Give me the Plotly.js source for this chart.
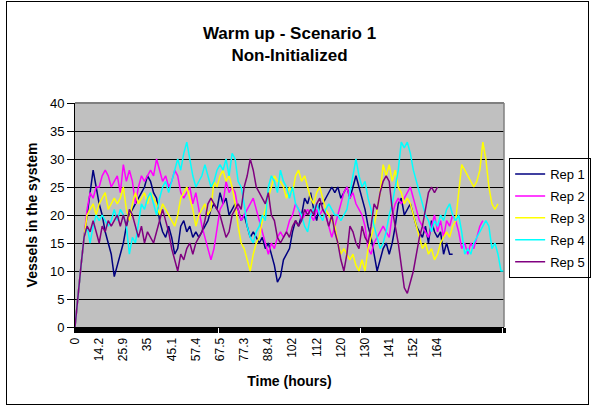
<!DOCTYPE html>
<html>
<head>
<meta charset="utf-8">
<script src="https://cdn.plot.ly/plotly-3.0.1.min.js"></script>
<style>
html,body{margin:0;padding:0;background:#fff;}
#wrap{position:relative;width:591px;height:406px;}
#chart{width:591px;height:406px;}
#frame{position:absolute;left:6px;top:1px;width:581px;height:402px;border:1px solid #000;pointer-events:none;}
</style>
</head>
<body>
<div id="wrap"><div id="chart"></div><div id="frame"></div></div>
<script>
// Category tick labels (time, hours) shown every 8 categories
const timeLabels = ["0","14.2","25.9","35","45.1","57.4","67.5","77.3","88.4","102","112","120","130","141","152","164"];
const seriesNames = ["Rep 1","Rep 2","Rep 3","Rep 4","Rep 5"];

const rep1 = [0,6,11,16,20,25,28,25,22,20,17,15,13,9,11,13,15,18,20,21,22,23,24,25,27,
26,24,23,19,17,16,18,16,13,14,18,19,17,18,16,17,16,17,18,19,21,22,21,
24,22,23,20,21,22,21,19,20,18,16,17,16,15,16,14,15,13,11,8,9,12,13,14,
17,19,18,20,23,22,24,21,19,22,22,23,24,25,24,25,23,24,25,23,25,27,25,23,
21,18,16,13,10,12,14,15,13,15,18,22,23,20,21,22,20,18,17,16,18,15,19,17,
16,17,13,15,13,13];

const rep2 = [0,6,11,16,21,24,23,25,25,27,28,27,25,26,27,24,29,26,28,26,22,25,27,26,27,
28,27,30,28,26,27,25,26,28,27,24,23,24,25,22,24,21,18,16,14,12,14,18,
21,22,26,24,25,24,21,19,20,21,22,23,21,19,17,15,13,15,14,16,17,16,17,19,
20,22,21,19,20,21,20,19,21,20,21,20,18,16,18,20,22,24,25,23,24,22,21,20,
18,14,13,15,16,17,18,17,16,20,22,23,22,23,24,25,23,21,19,18,17,16,18,20,
17,19,16,19,18,20,19,17,14,15,13,15,14,16,18,19];

const rep3 = [0,6,11,16,20,21,22,20,22,23,24,21,22,23,22,23,25,21,19,22,24,22,23,24,22,
24,23,22,20,22,21,20,19,18,20,23,24,25,23,21,18,20,21,22,20,21,26,25,
27,28,26,27,25,22,18,15,14,12,10,13,15,16,19,21,23,25,27,26,26,25,23,25,
24,27,28,26,27,25,23,22,24,25,23,21,20,19,18,15,13,14,13,12,13,11,10,12,
10,14,16,18,21,24,29,27,29,26,28,25,24,22,23,22,20,18,16,14,15,13,14,12,
13,15,16,17,16,18,19,24,29,28,27,26,25,26,28,33,30,25,22,21,22];

const rep4 = [0,6,11,16,18,15,18,20,19,20,19,18,19,21,19,21,20,18,13,16,15,19,22,21,23,
24,22,20,23,25,26,24,26,28,30,28,31,33,30,27,25,26,27,29,27,25,26,28,
29,28,30,27,31,30,26,25,22,18,16,15,17,18,20,19,25,27,26,24,28,26,25,23,
25,22,21,20,18,17,20,21,22,20,19,21,22,21,20,20,19,20,21,24,27,30,27,25,
26,23,21,18,16,14,15,17,20,22,25,28,33,32,33,31,28,26,24,22,20,19,17,19,
18,20,19,21,22,20,19,20,17,13,14,13,15,16,17,18,19,18,14,15,13,10,10];

const rep5 = [0,6,11,16,18,17,19,17,15,18,17,19,18,19,20,18,20,18,21,20,18,16,18,15,17,
16,15,17,19,21,19,17,14,12,10,13,12,14,15,13,15,16,17,19,22,23,22,21,
20,18,16,17,20,21,22,21,25,27,30,28,25,24,23,22,24,20,19,16,15,16,17,16,
18,19,18,19,21,20,21,20,22,23,21,20,18,20,17,15,12,10,13,18,17,15,14,18,
16,15,18,22,21,24,26,27,26,21,18,15,11,7,6,8,10,13,16,18,21,24,25,24,25];

const allSeries = [rep1, rep2, rep3, rep4, rep5];
const colors = ["#000080","#FF00FF","#FFFF00","#00FFFF","#800080"];
const labelStep = 8;
const font = "Liberation Sans, Arial, sans-serif";

const traces = allSeries.map((vals, k) => ({
  type: "scatter",
  mode: "lines",
  name: seriesNames[k],
  x: vals.map((_, i) => i),
  y: vals,
  line: {color: colors[k], width: 1.5},
  legendgroup: "g" + k
}));

const layout = {
  width: 591, height: 406,
  paper_bgcolor: "#ffffff",
  plot_bgcolor: "#C0C0C0",
  margin: {l: 75, r: 87, t: 103, b: 79, autoexpand: false},
  font: {family: font, color: "#000", size: 12},
  title: {
    text: "<b>Warm up - Scenario 1<br>Non-Initialized</b>",
    font: {family: font, size: 17, color: "#000"},
    x: 0.5, xref: "paper", xanchor: "center",
    y: 0.905, yref: "container", yanchor: "top"
  },
  showlegend: true,
  legend: {
    x: 1.012, xanchor: "left", y: 0.754, yanchor: "top",
    bgcolor: "#fff", bordercolor: "#000", borderwidth: 1,
    font: {family: font, size: 13, color: "#000"},
    tracegroupgap: 2,
    itemwidth: 30
  },
  xaxis: {
    range: [0, 142],
    tickmode: "array",
    tickvals: timeLabels.map((_, i) => i * labelStep),
    ticktext: timeLabels,
    tickangle: -90,
    ticks: "outside", ticklen: 5, tickcolor: "#000", tickwidth: 1,
    minor: {tickmode: "linear", tick0: 0, dtick: 1, ticklen: 5, tickwidth: 3, tickcolor: "#000", showgrid: false},
    showline: true, linecolor: "#000", linewidth: 1,
    showgrid: false, zeroline: false,
    tickfont: {family: font, size: 12, color: "#000"},
    title: {text: "<b>Time (hours)</b>", font: {family: font, size: 14, color: "#000"}, standoff: 16}
  },
  yaxis: {
    range: [0, 40],
    tickmode: "linear", tick0: 0, dtick: 5,
    ticks: "outside", ticklen: 7, tickcolor: "#000",
    showline: true, linecolor: "#000", linewidth: 1,
    showgrid: true, gridcolor: "#000", gridwidth: 1,
    zeroline: false,
    tickfont: {family: font, size: 13, color: "#000"},
    title: {text: "<b>Vessels in the system</b>", font: {family: font, size: 14, color: "#000"}, standoff: 9}
  },
  shapes: [
    {type: "line", xref: "paper", yref: "paper", x0: 0, x1: 1, y0: 1, y1: 1, line: {color: "#808080", width: 2}, layer: "above"},
    {type: "line", xref: "paper", yref: "paper", x0: 1, x1: 1, y0: 0, y1: 1, line: {color: "#808080", width: 1.5}, layer: "above"}
  ]
};

Plotly.newPlot("chart", traces, layout, {staticPlot: true, displayModeBar: false});
</script>
</body>
</html>
